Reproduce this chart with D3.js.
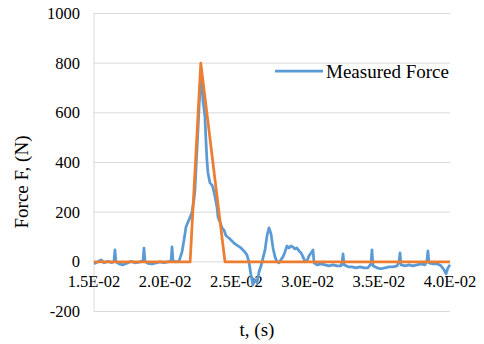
<!DOCTYPE html>
<html>
<head>
<meta charset="utf-8">
<script src="https://cdn.jsdelivr.net/npm/d3@7"></script>
<style>
  body { margin: 0; background: #fff; }
  svg { display: block; font-family: "Liberation Serif", "Times New Roman", serif; }
</style>
</head>
<body>
<svg id="chart" width="484" height="344"></svg>
<script>
// measured force
const measuredT = [
  0.01500, 0.01528, 0.01549, 0.01570, 0.01598, 0.01626, 0.01640, 0.01647, 0.01654, 0.01676,
  0.01704, 0.01732, 0.01760, 0.01788, 0.01823, 0.01844, 0.01851, 0.01858, 0.01879, 0.01907,
  0.01935, 0.01963, 0.01992, 0.02020, 0.02041, 0.02048, 0.02055, 0.02076, 0.02097, 0.02118,
  0.02132, 0.02146, 0.02160, 0.02174, 0.02188, 0.02202, 0.02209, 0.02216, 0.02230, 0.02244,
  0.02251, 0.02258, 0.02265, 0.02279, 0.02286, 0.02293, 0.02300, 0.02314, 0.02328, 0.02336,
  0.02350, 0.02364, 0.02371, 0.02385, 0.02399, 0.02413, 0.02427, 0.02448, 0.02469, 0.02490,
  0.02511, 0.02532, 0.02553, 0.02574, 0.02588, 0.02602, 0.02616, 0.02631, 0.02645, 0.02659,
  0.02673, 0.02687, 0.02701, 0.02715, 0.02729, 0.02743, 0.02757, 0.02771, 0.02785, 0.02799,
  0.02813, 0.02827, 0.02841, 0.02855, 0.02869, 0.02883, 0.02897, 0.02911, 0.02925, 0.02940,
  0.02954, 0.02968, 0.02982, 0.02996, 0.03010, 0.03024, 0.03038, 0.03045, 0.03066, 0.03094,
  0.03122, 0.03150, 0.03178, 0.03207, 0.03235, 0.03242, 0.03249, 0.03256, 0.03284, 0.03312,
  0.03340, 0.03368, 0.03396, 0.03424, 0.03445, 0.03452, 0.03459, 0.03487, 0.03515, 0.03543,
  0.03571, 0.03600, 0.03628, 0.03642, 0.03649, 0.03656, 0.03684, 0.03712, 0.03740, 0.03768,
  0.03796, 0.03824, 0.03838, 0.03845, 0.03852, 0.03880, 0.03909, 0.03937, 0.03958, 0.03972,
  0.03986, 0.04000
];
const measuredF = [
  -8, 0, 8, -4, 2, -3, 0, 48, 0, -8,
  -12, -6, 2, -4, 0, 4, 55, 2, -6, -8,
  -4, 0, -3, 0, 4, 60, 4, 0, 2, 40,
  88, 140, 160, 178, 200, 250, 290, 370, 530, 690,
  740, 725, 650, 585, 490, 410, 360, 318, 310, 298,
  262, 218, 180, 160, 137, 128, 105, 96, 84, 72,
  64, 56, 44, 28, 0, -52, -92, -72, -84, -40,
  -16, 16, 48, 105, 137, 113, 56, 20, 0, -4,
  8, 20, 40, 64, 56, 64, 60, 52, 56, 44,
  36, 20, 0, 4, 24, 36, 48, -4, -12, -8,
  -12, -16, -12, -16, -16, 0, 32, -12, -20, -20,
  -24, -20, -24, -24, -8, 48, -16, -24, -28, -24,
  -20, -20, -16, 0, 36, -12, -16, -12, -16, -12,
  -8, -12, 4, 44, -4, -8, -8, -16, -32, -48,
  -24, -12
];

// idealised triangular pulse
const idealT = [0.015, 0.02175, 0.02250, 0.02420, 0.040];
const idealF = [0, 0, 800, 0, 0];

const xTicks = [0.015, 0.020, 0.025, 0.030, 0.035, 0.040];
const yTicks = [-200, 0, 200, 400, 600, 800, 1000];

const margin = {left: 94, right: 34, top: 13.5, bottom: 32.5};
const width = 484, height = 344;

const svg = d3.select("#chart");

const x = d3.scaleLinear().domain([0.015, 0.040]).range([margin.left, width - margin.right]);
const y = d3.scaleLinear().domain([-200, 1000]).range([height - margin.bottom, margin.top]);

const fmtE = d => {
  const [m, e] = d.toExponential(1).toUpperCase().split("E");
  const n = +e;
  return m + "E" + (n < 0 ? "-" : "+") + String(Math.abs(n)).padStart(2, "0");
};

// gridlines
svg.append("g")
  .selectAll("line")
  .data(yTicks)
  .join("line")
  .attr("x1", x.range()[0])
  .attr("x2", x.range()[1])
  .attr("y1", d => y(d))
  .attr("y2", d => y(d))
  .attr("stroke", "#d9d9d9")
  .attr("stroke-width", 1);

// vertical axis line
svg.append("line")
  .attr("x1", x(0.015)).attr("x2", x(0.015))
  .attr("y1", y(1000)).attr("y2", y(-200))
  .attr("stroke", "#d9d9d9");

// y tick labels
svg.append("g")
  .selectAll("text")
  .data(yTicks)
  .join("text")
  .attr("x", 80)
  .attr("y", d => y(d))
  .attr("dy", "0.33em")
  .attr("text-anchor", "end")
  .attr("font-size", "16.5px")
  .attr("fill", "#000")
  .text(d => d);

// x tick labels sit under the zero line
svg.append("g")
  .selectAll("text")
  .data(xTicks)
  .join("text")
  .attr("x", d => x(d))
  .attr("y", 287)
  .attr("text-anchor", "middle")
  .attr("font-size", "16.5px")
  .attr("fill", "#000")
  .text(fmtE);

const line = d3.line()
  .x(d => x(d[0]))
  .y(d => y(d[1]));

const measured = measuredT.map((t, i) => [t, measuredF[i]]);
const ideal = idealT.map((t, i) => [t, idealF[i]]);

svg.append("path")
  .datum(measured)
  .attr("d", line)
  .attr("fill", "none")
  .attr("stroke", "#5b9bd5")
  .attr("stroke-width", 2.75)
  .attr("stroke-linejoin", "round");

svg.append("path")
  .datum(ideal)
  .attr("d", line)
  .attr("fill", "none")
  .attr("stroke", "#ed7d31")
  .attr("stroke-width", 2.75)
  .attr("stroke-linejoin", "round");

// legend
svg.append("line")
  .attr("x1", 275).attr("x2", 323)
  .attr("y1", 71).attr("y2", 71)
  .attr("stroke", "#5b9bd5")
  .attr("stroke-width", 2.75);
svg.append("text")
  .attr("x", 326)
  .attr("y", 78)
  .attr("font-size", "19px")
  .attr("fill", "#000")
  .text("Measured Force");

// axis titles
svg.append("text")
  .attr("x", 257)
  .attr("y", 336)
  .attr("text-anchor", "middle")
  .attr("font-size", "19px")
  .attr("fill", "#000")
  .text("t, (s)");

svg.append("text")
  .attr("transform", "translate(28,182) rotate(-90)")
  .attr("text-anchor", "middle")
  .attr("font-size", "19px")
  .attr("fill", "#000")
  .text("Force F, (N)");
</script>
</body>
</html>
